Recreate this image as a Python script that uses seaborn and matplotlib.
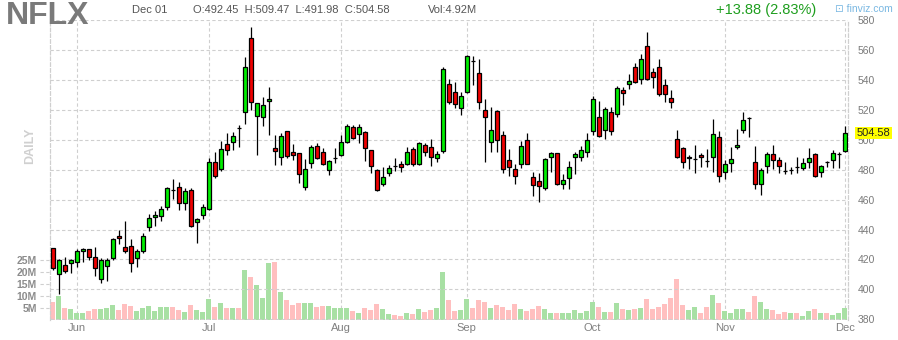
import numpy as np
import pandas as pd
import matplotlib
matplotlib.use("Agg")
import matplotlib.pyplot as plt
import matplotlib.transforms as mtransforms
import seaborn as sns

# ---------------- data ----------------
dates = pd.bdate_range("2020-05-26", "2020-12-01")
dates = dates[~dates.isin(pd.to_datetime(["2020-07-03", "2020-09-07", "2020-11-26"]))]

opens = [427.5, 410.1, 416.6, 417.7, 418.6, 425.5, 427.0, 421.9, 406.8, 415.5,
         421.2, 435.5, 428.2, 428.8, 421.0, 425.5, 441.6, 448.4, 449.1, 454.9,
         466.3, 468.3, 458.0, 466.3, 444.9, 449.5, 453.6, 485.0, 480.3, 497.0,
         498.4, 507.8, 518.9, 567.9, 516.2, 515.5, 525.8, 494.4, 488.8, 505.7,
         491.7, 491.0, 468.3, 484.3, 495.7, 491.7, 480.1, 488.0, 490.1, 498.4,
         508.4, 503.7, 505.0, 493.2, 479.8, 470.7, 478.1, 482.6, 483.6, 484.1,
         493.7, 483.9, 496.4, 495.0, 487.7, 492.3, 537.4, 531.8, 521.1, 532.2,
         553.1, 544.5, 519.8, 498.3, 519.3, 503.0, 486.3, 480.3, 483.6, 499.7,
         475.2, 472.3, 467.6, 488.3, 491.0, 470.5, 474.3, 488.8, 488.8, 492.1,
         505.7, 515.5, 506.4, 518.4, 517.5, 533.4, 537.2, 548.5, 540.5, 562.8,
         545.2, 549.0, 536.5, 527.8, 500.6, 494.6, 488.2, 487.5, 489.8, 486.2,
         488.3, 501.7, 478.3, 484.3, 495.0, 506.4, 515.0, 485.2, 470.3, 482.3,
         490.6, 486.3, 479.5, 479.8, 481.8, 481.4, 485.0, 490.4, 478.3, 485.1,
         486.6, 490.6, 492.45]
highs = [428.0, 420.0, 421.7, 420.2, 426.8, 427.5, 427.3, 428.2, 421.0, 421.0,
         434.2, 440.0, 445.8, 433.5, 426.8, 437.5, 450.4, 452.6, 455.6, 468.5,
         473.8, 472.1, 467.6, 467.6, 447.5, 457.1, 487.7, 491.7, 499.5, 504.4,
         505.1, 510.0, 555.2, 575.3, 525.0, 528.5, 535.2, 503.3, 504.4, 505.7,
         497.0, 491.0, 487.2, 496.4, 497.7, 494.6, 486.6, 494.3, 503.3, 510.6,
         510.0, 510.6, 506.2, 493.2, 480.3, 482.1, 483.2, 487.7, 485.9, 495.0,
         495.5, 498.6, 497.7, 500.6, 492.6, 548.5, 540.7, 538.5, 531.8, 556.8,
         556.1, 554.1, 527.1, 522.2, 520.0, 505.9, 493.9, 483.6, 499.3, 504.6,
         478.3, 478.1, 488.1, 491.9, 491.0, 477.0, 486.1, 492.1, 495.9, 504.4,
         529.4, 526.0, 522.2, 521.8, 536.1, 535.6, 544.1, 551.2, 557.5, 572.2,
         547.9, 553.9, 540.5, 533.4, 506.6, 495.5, 489.9, 496.6, 491.0, 493.7,
         514.0, 505.9, 486.6, 495.5, 507.3, 518.9, 515.5, 495.9, 481.0, 492.1,
         496.6, 488.8, 485.0, 482.1, 488.3, 488.1, 494.4, 491.0, 483.2, 486.1,
         493.3, 492.1, 509.47]
lows = [413.0, 396.9, 411.0, 411.0, 415.2, 418.6, 419.5, 409.2, 404.0, 405.8,
        419.9, 430.4, 424.3, 411.8, 414.8, 424.6, 438.9, 442.2, 445.5, 453.3,
        460.5, 453.1, 453.1, 442.0, 431.3, 446.9, 453.1, 474.7, 479.4, 490.1,
        493.2, 495.5, 510.9, 520.0, 489.9, 509.3, 503.3, 483.2, 483.2, 488.1,
        486.6, 471.4, 466.7, 481.4, 487.2, 483.2, 476.7, 484.3, 489.2, 497.7,
        500.6, 498.1, 486.1, 478.1, 465.8, 469.4, 476.0, 479.4, 478.8, 483.2,
        482.8, 483.4, 489.4, 482.8, 485.4, 491.4, 524.0, 521.1, 516.6, 531.5,
        536.7, 520.7, 485.4, 492.1, 492.1, 478.1, 476.1, 470.7, 481.0, 483.6,
        462.7, 458.2, 466.3, 478.8, 470.0, 467.1, 467.1, 477.2, 486.1, 488.8,
        503.1, 501.9, 500.8, 503.5, 515.5, 523.3, 534.0, 537.8, 537.2, 540.1,
        534.5, 529.4, 525.4, 521.6, 487.7, 481.0, 480.5, 478.1, 482.1, 482.1,
        478.8, 472.1, 473.9, 478.3, 493.9, 504.8, 502.2, 466.9, 463.2, 477.6,
        480.3, 477.6, 477.2, 477.0, 478.1, 479.9, 481.0, 475.4, 475.4, 482.1,
        481.0, 481.0, 491.98]
closes = [414.1, 419.5, 412.6, 419.5, 425.7, 427.0, 421.5, 414.1, 419.5, 419.5,
          433.7, 434.2, 425.4, 417.5, 425.7, 435.5, 447.6, 449.8, 453.8, 467.8,
          466.2, 457.6, 465.6, 442.6, 446.9, 454.9, 485.0, 476.1, 493.7, 493.0,
          502.4, 507.7, 548.5, 525.1, 524.5, 523.1, 527.1, 492.4, 502.4, 489.5,
          489.7, 477.0, 480.3, 495.0, 488.1, 484.1, 485.6, 488.1, 498.4, 509.3,
          501.5, 508.4, 494.3, 482.7, 466.2, 475.2, 481.2, 482.5, 482.1, 491.7,
          483.9, 497.7, 491.9, 488.3, 490.3, 547.2, 525.6, 523.8, 529.1, 556.1,
          553.0, 525.1, 515.5, 506.6, 499.9, 480.3, 481.6, 475.6, 495.7, 483.6,
          469.6, 469.4, 487.2, 491.0, 470.3, 472.9, 482.1, 490.3, 493.0, 499.7,
          527.1, 502.4, 520.4, 505.7, 534.5, 531.1, 539.4, 539.0, 553.9, 541.0,
          541.9, 530.5, 530.5, 525.1, 488.8, 485.0, 488.3, 487.6, 488.3, 486.1,
          503.7, 475.6, 483.7, 487.0, 496.6, 513.1, 514.9, 470.3, 479.9, 490.6,
          486.3, 482.3, 479.4, 479.9, 481.7, 484.3, 487.7, 476.1, 482.6, 485.0,
          491.2, 490.7, 504.58]
volumes_m = [7.4, 9.9, 5.1, 4.7, 3.1, 3.1, 3.8, 4.7, 4.7, 5.1,
             6.4, 4.3, 6.8, 6.0, 3.8, 5.1, 6.0, 3.8, 5.5, 5.5,
             5.5, 4.3, 3.4, 6.4, 4.3, 3.4, 8.9, 5.5, 7.2, 5.1,
             5.1, 5.1, 20.8, 17.8, 14.4, 9.3, 23.7, 24.1, 11.5, 8.5,
             6.4, 7.2, 7.2, 7.2, 5.5, 6.0, 6.0, 5.1, 5.1, 5.1,
             3.8, 3.0, 5.1, 4.3, 6.8, 4.7, 2.6, 2.1, 1.7, 3.0,
             2.6, 4.7, 3.4, 4.3, 5.1, 19.9, 8.5, 3.8, 4.3, 8.9,
             5.1, 8.5, 7.7, 5.1, 6.4, 5.5, 4.3, 6.8, 4.7, 3.8,
             4.7, 6.0, 4.7, 3.0, 3.0, 3.0, 3.0, 4.3, 3.0, 3.8,
             7.7, 5.5, 3.4, 3.4, 7.2, 4.7, 4.3, 4.7, 5.1, 8.9,
             4.7, 5.5, 6.8, 9.3, 17.0, 6.4, 4.3, 5.5, 3.0, 5.5,
             10.6, 7.2, 3.8, 3.0, 4.7, 4.7, 3.4, 9.8, 7.7, 4.7,
             4.3, 2.6, 3.4, 3.0, 3.0, 1.7, 3.8, 4.7, 3.0, 3.0,
             2.1, 3.0, 4.92]
month_labels = ["Jun", "Jul", "Aug", "Sep", "Oct", "Nov", "Dec"]
price_ticks = [580, 560, 540, 520, 500, 480, 460, 440, 420, 400, 380]
volume_ticks = [5, 10, 15, 20, 25]
ticker = "NFLX"

df = pd.DataFrame({"date": dates, "open": opens, "high": highs, "low": lows,
                   "close": closes, "vol": volumes_m})
df["idx"] = np.arange(len(df))
df["dir"] = np.where(df["close"] >= df["open"], "up", "down")

# ---------------- style ----------------
sns.set_style("white")
plt.rcParams["font.family"] = ["Liberation Sans", "DejaVu Sans"]

W_PX, H_PX = 898, 340
fig = plt.figure(figsize=(W_PX / 100, H_PX / 100), dpi=100)
left_px, right_px, top_px, bottom_px = 50, 847.5, 20.3, 320
ax_v = fig.add_axes([left_px / W_PX, 1 - bottom_px / H_PX,
                     (right_px - left_px) / W_PX, (bottom_px - top_px) / H_PX])
ax_p = ax_v.twinx()

GRID = "#cfcfcf"
DASH = (0, (3, 2.2))

# ---------------- volume (seaborn) ----------------
sns.barplot(data=df, x="idx", y="vol", hue="dir",
            palette={"up": "#a8e0a4", "down": "#ffbfbf"},
            native_scale=True, dodge=False, width=0.84, saturation=1,
            errorbar=None, legend=False, ax=ax_v, linewidth=0)
ax_v.set_ylim(0, 124.9)
ax_v.set_yticks(volume_ticks)
ax_v.set_yticklabels([f"{v}M" for v in volume_ticks], fontsize=7.5,
                     fontweight="bold", color="#8c8c8c")
ax_v.tick_params(axis="y", length=0, pad=9.5)
ax_v.set_ylabel("")
ax_v.set_xlabel("")
blend = mtransforms.blended_transform_factory(ax_v.transAxes, ax_v.transData)
ax_v.hlines(volume_ticks, -10 / (right_px - left_px), 0, transform=blend,
            colors=GRID, linestyles=DASH, lw=0.8, clip_on=False)

# month ticks at first trading day of each month
month_first = df.groupby(df["date"].dt.to_period("M"))["idx"].min()
month_first = month_first[month_first > 0]
ax_v.set_xticks(month_first.values)
ax_v.set_xticklabels(month_labels, fontsize=8, color="#808080")
ax_v.tick_params(axis="x", length=0, pad=2)
ax_v.grid(axis="x", color=GRID, linestyle=DASH, lw=0.8)
ax_v.set_xlim(-0.45, 132.47)

# ---------------- candles ----------------
x = df["idx"].values
o = df["open"].values
c = df["close"].values
body_lo = np.minimum(o, c)
body_h = np.abs(c - o)
doji = body_h < 0.3
body_col = np.where(doji, "black", np.where(c >= o, "#00ee00", "#f00000"))
ax_p.vlines(x, df["low"], df["high"], colors="black", lw=0.9, zorder=2)
ax_p.bar(x, np.where(doji, 0.05, body_h), bottom=body_lo, width=0.72,
         color=body_col, edgecolor="black", linewidth=0.9, zorder=3)
ax_p.set_ylim(379.53, 580)
ax_p.set_yticks(price_ticks)
ax_p.set_yticklabels([str(p) for p in price_ticks], fontsize=7.5, color="#7a7a7a")
ax_p.tick_params(axis="y", length=0, pad=7.6)
ax_p.grid(axis="y", color=GRID, linestyle=DASH, lw=0.8)
ax_p.set_axisbelow(True)
ax_p.set_xlim(-0.45, 132.47)

for a in (ax_v, ax_p):
    for s in ("top", "bottom"):
        a.spines[s].set_visible(False)
    for s in ("left", "right"):
        a.spines[s].set_color(GRID)
        a.spines[s].set_linestyle(DASH)
        a.spines[s].set_linewidth(0.8)

# last price tag
last = df.iloc[-1]
ax_p.annotate(f"{last['close']:.2f}", xy=(1, last["close"]),
              xycoords=mtransforms.blended_transform_factory(ax_p.transAxes, ax_p.transData),
              xytext=(9, 0), textcoords="offset pixels", va="center", ha="left",
              fontsize=8, color="#222222",
              bbox=dict(boxstyle="square,pad=0.12", fc="#ffff00", ec="none"))

# ---------------- header ----------------
def fx(px):
    return px / W_PX

def fy(py):
    return 1 - py / H_PX

prev_close = df["close"].iloc[-2]
chg = last["close"] - prev_close
pct = chg / prev_close * 100
fig.text(fx(6), fy(15.5), ticker, fontsize=23, fontweight="bold", color="#7a7a7a",
         va="center", ha="left")
fig.text(fx(132), fy(10), last["date"].strftime("%b %d"), fontsize=8, color="#555555",
         va="center")
fig.text(fx(193), fy(10),
         f"O:{last['open']:.2f}  H:{last['high']:.2f}  L:{last['low']:.2f}  C:{last['close']:.2f}",
         fontsize=8, color="#555555", va="center")
fig.text(fx(428), fy(10), f"Vol:{last['vol']:.2f}M", fontsize=8, color="#555555",
         va="center")
fig.text(fx(816), fy(10), f"{chg:+.2f} ({pct:.2f}%)", fontsize=10.5, color="#1e9e1e",
         va="center", ha="right")
fig.text(fx(893), fy(9), "⊡ finviz.com", fontsize=7.5, color="#7ab8e2",
         va="center", ha="right")
fig.text(fx(30), fy(146), "DAILY", rotation=90, fontsize=9, fontweight="bold",
         color="#d0d0d0", va="center", ha="center")

fig.savefig("out.png", dpi=100)
